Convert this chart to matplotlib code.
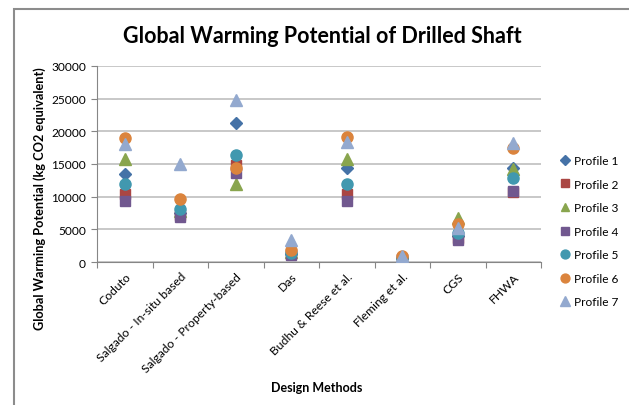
import matplotlib.pyplot as plt
import matplotlib.patches as patches
import numpy as np

plt.rcParams['font.family'] = ['Lato', 'DejaVu Sans']

methods = ['Coduto', 'Salgado - In-situ based', 'Salgado - Property-based', 'Das',
           'Budhu & Reese et al.', 'Fleming et al.', 'CGS', 'FHWA']

profile1 = [13500, 7500, 21300, 1300, 14400, 600, 4000, 14400]
profile2 = [10400, 7200, 14900, 1200, 10400, 500, 3700, 10700]
profile3 = [15800, 7800, 12000, 1500, 15800, 700, 6800, 14200]
profile4 = [9300, 6900, 13600, 1100, 9300, 400, 3300, 10800]
profile5 = [12000, 8100, 16400, 1400, 12000, 600, 4400, 12900]
profile6 = [19000, 9700, 14400, 1800, 19100, 900, 5800, 17500]
profile7 = [18000, 15000, 24800, 3400, 18400, 900, 5200, 18200]

series = [profile1, profile2, profile3, profile4, profile5, profile6, profile7]
names = ['Profile 1', 'Profile 2', 'Profile 3', 'Profile 4', 'Profile 5', 'Profile 6', 'Profile 7']
colors = ['#4572A7', '#AA4643', '#89A54E', '#71588F', '#4198AF', '#DB843D', '#93A9CF']
markers = ['D', 's', '^', 's', 'o', 'o', '^']
sizes = [6, 7.5, 8, 7.5, 8, 8, 8.5]

fig = plt.figure(figsize=(6.29, 4.06), dpi=100)
ax = fig.add_axes([0.1542, 0.352, 0.706, 0.4835])

x = np.arange(len(methods)) + 0.5
for vals, name, c, m, ms in zip(series, names, colors, markers, sizes):
    ax.plot(x, vals, ls='none', marker=m, color=c, ms=ms, label=name, zorder=3)

ax.set_xlim(0, len(methods))
ax.set_ylim(0, 30000)
ax.set_yticks(np.arange(0, 30001, 5000))
ax.set_xticks(np.arange(len(methods) + 1))
ax.set_xticklabels([])
ax.set_xticks(x, minor=True)
ax.set_xticklabels(methods, minor=True, rotation=45, ha='right', va='top',
                   rotation_mode='anchor', fontsize=8.7)
ax.tick_params(axis='x', which='minor', length=0, pad=6)
ax.tick_params(axis='x', which='major', length=4, color='#868686', direction='out')
ax.tick_params(axis='y', length=4, color='#868686', labelsize=8.6, pad=4)
ax.grid(axis='y', color='#bfbfbf', lw=1.2, zorder=0)
ax.set_axisbelow(True)
for s in ['top', 'right']:
    ax.spines[s].set_visible(False)
for s in ['left', 'bottom']:
    ax.spines[s].set_color('#868686')

fig.text(40 / 629, 0.51, 'Global Warming Potential (kg CO2 equivalent)', rotation=90,
         ha='center', va='center', fontsize=9.2, fontweight='bold')
fig.text(0.504, 0.044, 'Design Methods', ha='center', va='center',
         fontsize=9, fontweight='bold')
fig.text(0.512, 0.91, 'Global Warming Potential of Drilled Shaft', ha='center',
         va='center', fontsize=15.5, fontweight='bold')

ax.legend(loc='upper left', bbox_to_anchor=(1.02, 0.60), frameon=False,
          fontsize=8.6, handlelength=0.8, handletextpad=0.3, labelspacing=1.05,
          markerscale=0.8)

# chart area outline
fig.patches.append(patches.Rectangle((14 / 629, -0.1), 1.1, 1 - 10 / 406 + 0.1,
                                     transform=fig.transFigure, fill=False,
                                     edgecolor='#8c8c8c', lw=1.5))

fig.savefig('out.png', dpi=100)
